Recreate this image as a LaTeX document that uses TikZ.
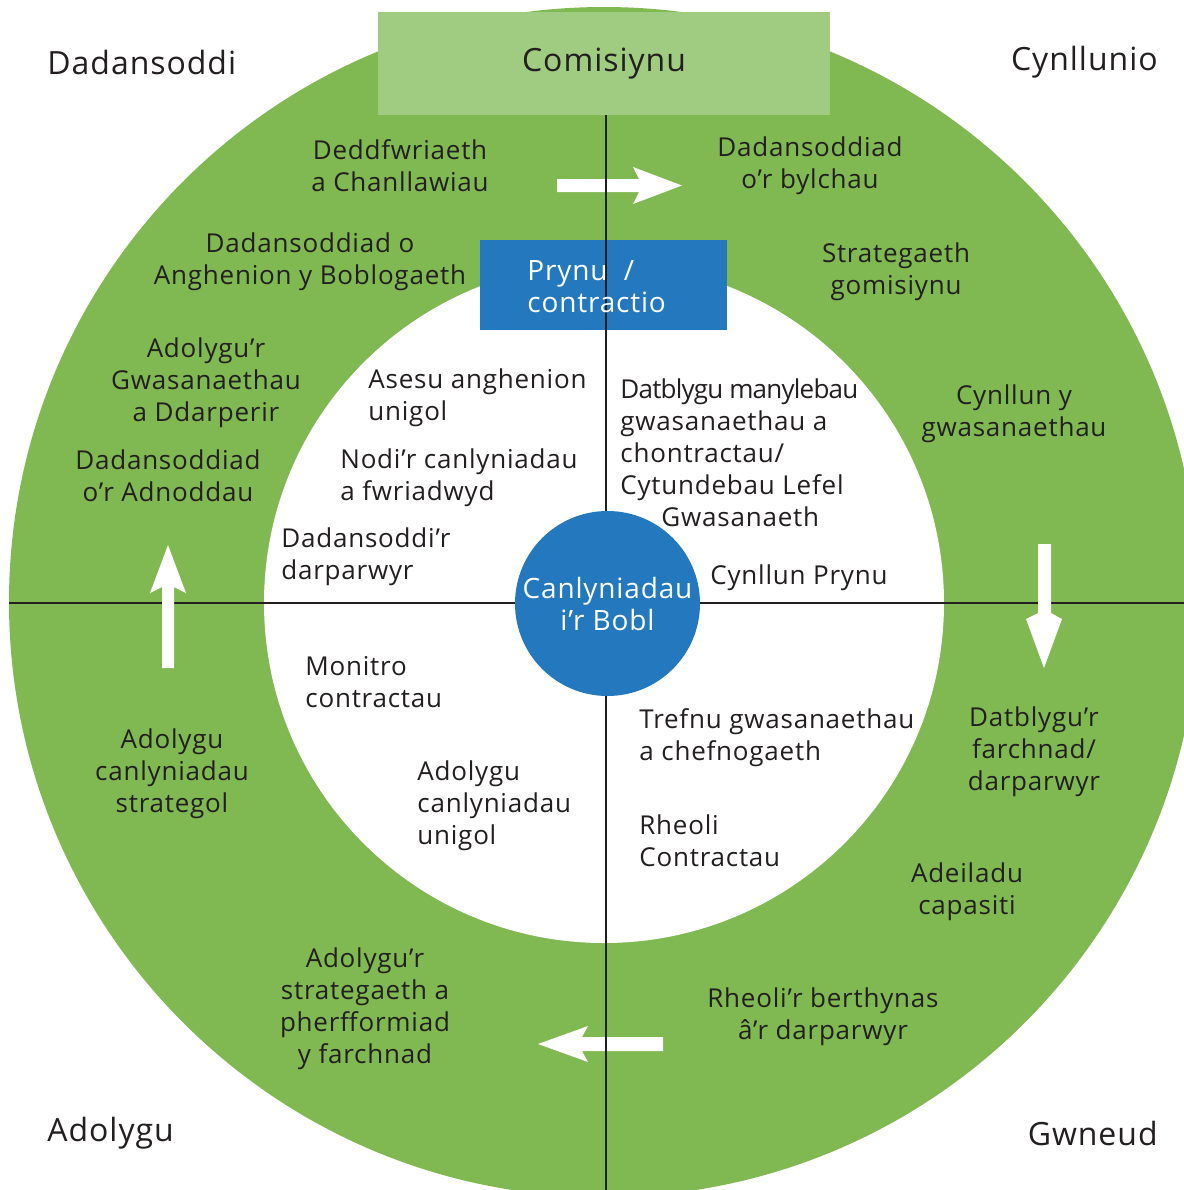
\documentclass[tikz,border=0pt]{standalone}
\usepackage{fontspec}
\setmainfont{Open Sans}[LetterSpace=3]
\definecolor{ringgreen}{HTML}{80B851}
\definecolor{boxgreen}{HTML}{A0CC82}
\definecolor{midblue}{HTML}{2478BE}
\definecolor{ink}{HTML}{231F20}
\begin{document}
\begin{tikzpicture}[x=0.5pt,y=-0.5pt,
  txt/.style={inner sep=0pt, text=ink, font=\fontsize{13pt}{16pt}\selectfont, align=center, yshift=-1.5pt},
  ltxt/.style={txt, align=left, anchor=west},
  cornerlbl/.style={inner sep=0pt, text=ink, font=\fontsize{16pt}{20pt}\selectfont, yshift=-1pt},
  divider/.style={ink, line width=1.3pt},
  flowarrow/.style={fill=white}]
\useasboundingbox (0,0) rectangle (1184,1190);
% rings
\fill[ringgreen] (604,602) circle[radius=595];
\fill[white] (604,603) circle[radius=340];
% horizontal divider
\coordinate (hl) at (9,603);
\coordinate (hr) at (1200,603);
\draw[divider] (hl) -- (hr);
% arrows over horizontal line
\fill[flowarrow] (162,668) -- (162,587) -- (150,593) -- (168,545) -- (186,593) -- (174,587) -- (174,668) -- cycle;
\fill[flowarrow] (1038,544) -- (1038,613) -- (1026,619) -- (1044,668) -- (1062,619) -- (1051,613) -- (1051,544) -- cycle;
% purchasing box
\node[fill=midblue, minimum width=123.5pt, minimum height=45pt, inner sep=0pt] (prynubox) at (603.5,285) {};
% arrows under vertical line
\fill[flowarrow] (557,179) -- (639,179) -- (633,167) -- (682,185.5) -- (633,204) -- (639,192) -- (557,192) -- cycle;
\fill[flowarrow] (663,1037) -- (582,1037) -- (588,1026) -- (538,1044) -- (588,1062) -- (582,1051) -- (663,1051) -- cycle;
% vertical divider
\coordinate (vt) at (606,112);
\coordinate (vb) at (606,1200);
\draw[divider] (vt) -- (vb);
% centre
\node[circle, fill=midblue, minimum size=92.5pt, inner sep=0pt, text=white, align=center,
      font=\fontsize{14pt}{16pt}\selectfont] (outcome) at (607.5,603.5) {Canlyniadau\\i’r Bobl};
% top box
\node[fill=boxgreen, minimum width=226pt, minimum height=51.5pt, inner sep=0pt, text=ink,
      font=\fontsize{16pt}{20pt}\selectfont] (comm) at (604,63.5) {Comisiynu};
\node[ltxt, text=white, font=\fontsize{14pt}{16pt}\selectfont, yshift=1pt] (prynu) at (527,286) {Prynu~~/\\contractio};
% corner labels
\node[cornerlbl, anchor=west] (c1) at (47,60) {Dadansoddi};
\node[cornerlbl, anchor=east] (c2) at (1158,60) {Cynllunio};
\node[cornerlbl, anchor=west] (c3) at (47,1131) {Adolygu};
\node[cornerlbl, anchor=east] (c4) at (1158,1131) {Gwneud};
% outer ring texts
\node[txt] (g1) at (400,163) {Deddfwriaeth\\a Chanllawiau};
\node[txt] (g2) at (810,163) {Dadansoddiad\\o’r bylchau};
\node[txt] (g3) at (310,259) {Dadansoddiad o\\Anghenion y Boblogaeth};
\node[txt] (g4) at (896,269) {Strategaeth\\gomisiynu};
\node[txt] (g5) at (206,380) {Adolygu’r\\Gwasanaethau\\a Ddarperir};
\node[txt] (g6) at (1014,411) {Cynllun y\\gwasanaethau};
\node[txt] (g7) at (168,473) {Dadansoddiad\\o’r Adnoddau};
\node[txt] (g8) at (172,771) {Adolygu\\canlyniadau\\strategol};
\node[txt] (g9) at (1034,749) {Datblygu’r\\farchnad/\\darparwyr};
\node[txt] (g10) at (967,889) {Adeiladu\\capasiti};
\node[txt] (g11) at (823,1014) {Rheoli’r berthynas\\â’r darparwyr};
\node[txt] (g12) at (365,1006) {Adolygu’r\\strategaeth a\\pherfformiad\\y farchnad};
% inner texts
\node[ltxt] (w1) at (368,395) {Asesu anghenion\\unigol};
\node[ltxt] (w2) at (340,475) {Nodi’r canlyniadau\\a fwriadwyd};
\node[ltxt] (w3) at (281,554) {Dadansoddi’r\\darparwyr};
\node[ltxt] (w4) at (620,450) {{\addfontfeature{LetterSpace=-3}Datblygu manylebau}\\gwasanaethau a\\chontractau/\\Cytundebau Lefel\\\hspace*{20.5pt}Gwasanaeth};
\node[ltxt] (w5) at (710,575) {Cynllun Prynu};
\node[ltxt] (w6) at (305,679) {Monitro\\contractau};
\node[ltxt] (w7) at (417,803) {Adolygu\\canlyniadau\\unigol};
\node[ltxt] (w8) at (639,735) {Trefnu gwasanaethau\\a chefnogaeth};
\node[ltxt] (w9) at (639,838) {Rheoli\\Contractau};
\end{tikzpicture}
\end{document}
